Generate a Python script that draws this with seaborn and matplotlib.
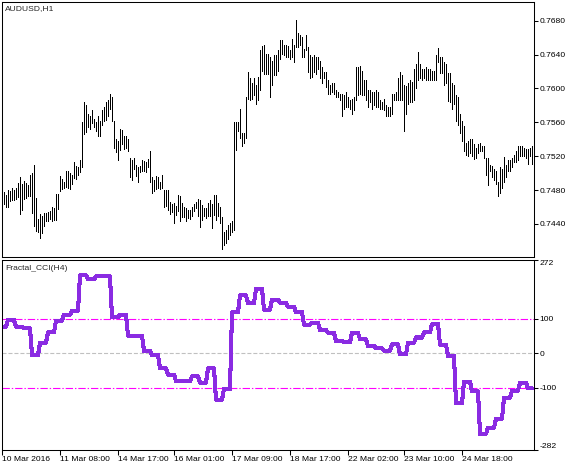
import matplotlib
matplotlib.use("Agg")
import matplotlib.pyplot as plt
import numpy as np
import pandas as pd
import seaborn as sns

# H1 bars of AUDUSD (high / low)
highs = [
    0.7478, 0.7474, 0.7480, 0.7479, 0.7483, 0.7480, 0.7482, 0.7488, 0.7496, 0.7487,
    0.7491, 0.7488, 0.7486, 0.7498, 0.7500, 0.7510, 0.7471, 0.7446, 0.7452, 0.7450,
    0.7453, 0.7453, 0.7454, 0.7455, 0.7460, 0.7459, 0.7475, 0.7475, 0.7497, 0.7493,
    0.7489, 0.7503, 0.7502, 0.7500, 0.7498, 0.7513, 0.7509, 0.7507, 0.7515, 0.7560,
    0.7584, 0.7580, 0.7570, 0.7568, 0.7575, 0.7564, 0.7560, 0.7568, 0.7562, 0.7574,
    0.7578, 0.7584, 0.7586, 0.7593, 0.7590, 0.7561, 0.7540, 0.7538, 0.7552, 0.7551,
    0.7544, 0.7544, 0.7540, 0.7518, 0.7515, 0.7518,
    0.7510, 0.7507, 0.7508, 0.7515, 0.7514, 0.7513, 0.7517, 0.7526, 0.7495, 0.7492,
    0.7497, 0.7495, 0.7489, 0.7498, 0.7480, 0.7480, 0.7480, 0.7466, 0.7464, 0.7465,
    0.7461, 0.7474, 0.7473, 0.7465, 0.7460, 0.7459, 0.7457, 0.7456, 0.7460, 0.7463,
    0.7466, 0.7470, 0.7468, 0.7462, 0.7459, 0.7459, 0.7465, 0.7468, 0.7463, 0.7474,
    0.7474, 0.7465, 0.7460, 0.7448, 0.7431, 0.7433, 0.7439, 0.7441, 0.7443,
    0.7560, 0.7560, 0.7560, 0.7576, 0.7548, 0.7548, 0.7590, 0.7619, 0.7612, 0.7606,
    0.7612, 0.7604, 0.7614, 0.7645, 0.7650, 0.7651, 0.7641, 0.7641, 0.7637, 0.7633,
    0.7639, 0.7639, 0.7645, 0.7657, 0.7657, 0.7651, 0.7651, 0.7650, 0.7646, 0.7659,
    0.7651, 0.7681, 0.7665, 0.7663, 0.7661, 0.7647, 0.7663, 0.7649, 0.7639, 0.7637,
    0.7639, 0.7637, 0.7637, 0.7633, 0.7625, 0.7619, 0.7619, 0.7610, 0.7604, 0.7606,
    0.7607, 0.7598, 0.7596, 0.7594, 0.7594, 0.7592, 0.7596, 0.7590, 0.7586, 0.7588,
    0.7590, 0.7625, 0.7625, 0.7626, 0.7621, 0.7610, 0.7610, 0.7598, 0.7598, 0.7596,
    0.7596, 0.7598, 0.7596, 0.7586, 0.7584, 0.7588, 0.7580, 0.7578, 0.7578, 0.7594,
    0.7594, 0.7596, 0.7612, 0.7619, 0.7616, 0.7604, 0.7603, 0.7606, 0.7610, 0.7608,
    0.7623, 0.7629, 0.7643, 0.7629, 0.7623, 0.7623, 0.7625, 0.7623, 0.7623, 0.7621,
    0.7621, 0.7639, 0.7648,
    0.7637, 0.7637, 0.7631, 0.7629, 0.7618, 0.7618, 0.7606, 0.7604, 0.7592, 0.7590,
    0.7570, 0.7562, 0.7556, 0.7536, 0.7538, 0.7540, 0.7540, 0.7534, 0.7530, 0.7534,
    0.7536, 0.7532, 0.7532, 0.7518, 0.7518, 0.7510, 0.7509, 0.7505, 0.7503, 0.7489,
    0.7507, 0.7505, 0.7519, 0.7510, 0.7516, 0.7516, 0.7518, 0.7522, 0.7526, 0.7532,
    0.7532, 0.7532, 0.7530, 0.7529, 0.7528, 0.7530, 0.7532,
]
lows = [
    0.7464, 0.7460, 0.7460, 0.7467, 0.7468, 0.7468, 0.7470, 0.7472, 0.7452, 0.7457,
    0.7470, 0.7471, 0.7473, 0.7473, 0.7453, 0.7438, 0.7432, 0.7431, 0.7423, 0.7429,
    0.7438, 0.7443, 0.7444, 0.7446, 0.7443, 0.7445, 0.7445, 0.7458, 0.7479, 0.7481,
    0.7483, 0.7484, 0.7483, 0.7481, 0.7487, 0.7494, 0.7493, 0.7498, 0.7501, 0.7507,
    0.7546, 0.7549, 0.7554, 0.7552, 0.7559, 0.7554, 0.7550, 0.7544, 0.7544, 0.7557,
    0.7561, 0.7563, 0.7567, 0.7576, 0.7561, 0.7530, 0.7525, 0.7516, 0.7527, 0.7534,
    0.7528, 0.7530, 0.7526, 0.7495, 0.7492, 0.7505,
    0.7497, 0.7489, 0.7501, 0.7503, 0.7502, 0.7501, 0.7507, 0.7489, 0.7477, 0.7479,
    0.7481, 0.7483, 0.7481, 0.7482, 0.7460, 0.7461, 0.7456, 0.7452, 0.7454, 0.7441,
    0.7451, 0.7455, 0.7443, 0.7448, 0.7448, 0.7443, 0.7447, 0.7446, 0.7449, 0.7455,
    0.7459, 0.7450, 0.7437, 0.7445, 0.7449, 0.7447, 0.7449, 0.7450, 0.7435, 0.7451,
    0.7445, 0.7450, 0.7441, 0.7410, 0.7415, 0.7418, 0.7422, 0.7427, 0.7431,
    0.7433, 0.7527, 0.7550, 0.7542, 0.7532, 0.7536, 0.7542, 0.7588, 0.7586, 0.7588,
    0.7592, 0.7582, 0.7586, 0.7598, 0.7621, 0.7617, 0.7617, 0.7617, 0.7590, 0.7604,
    0.7616, 0.7616, 0.7621, 0.7635, 0.7641, 0.7639, 0.7637, 0.7637, 0.7635, 0.7637,
    0.7631, 0.7649, 0.7649, 0.7651, 0.7637, 0.7637, 0.7645, 0.7619, 0.7612, 0.7614,
    0.7619, 0.7617, 0.7623, 0.7612, 0.7606, 0.7612, 0.7602, 0.7594, 0.7594, 0.7596,
    0.7594, 0.7590, 0.7590, 0.7586, 0.7568, 0.7576, 0.7578, 0.7578, 0.7576, 0.7570,
    0.7574, 0.7586, 0.7592, 0.7594, 0.7592, 0.7592, 0.7586, 0.7578, 0.7584, 0.7576,
    0.7580, 0.7578, 0.7578, 0.7576, 0.7576, 0.7574, 0.7568, 0.7568, 0.7568, 0.7570,
    0.7586, 0.7586, 0.7586, 0.7586, 0.7586, 0.7550, 0.7570, 0.7582, 0.7584, 0.7584,
    0.7586, 0.7600, 0.7610, 0.7612, 0.7610, 0.7612, 0.7610, 0.7610, 0.7610, 0.7610,
    0.7610, 0.7610, 0.7631,
    0.7618, 0.7618, 0.7604, 0.7606, 0.7585, 0.7584, 0.7576, 0.7582, 0.7561, 0.7557,
    0.7547, 0.7538, 0.7526, 0.7522, 0.7520, 0.7524, 0.7520, 0.7517, 0.7518, 0.7524,
    0.7526, 0.7526, 0.7518, 0.7498, 0.7486, 0.7503, 0.7495, 0.7492, 0.7487, 0.7473,
    0.7477, 0.7483, 0.7489, 0.7495, 0.7503, 0.7503, 0.7507, 0.7513, 0.7513, 0.7516,
    0.7520, 0.7520, 0.7520, 0.7518, 0.7511, 0.7520, 0.7511,
]

# Fractal_CCI computed on H4, one value per 4 H1 bars
cci_h4 = [
    78, 97, 77, 73, -5, 31, 61, 95, 113, 124,
    227, 216, 224, 224, 105, 112, 51, 51, 7, -5,
    -44, -62, -81, -81, -67, -86, -44, -135, -104, 120,
    169, 146, 188, 127, 156, 148, 136, 120, 83, 89,
    68, 60, 36, 32, 60, 41, 21, 15, 7, 26,
    -3, 31, 46, 61, 85, 25, -8, -145, -83, -111,
    -235, -217, -191, -130, -109, -86, -102,
]

price_ticks = [0.7440, 0.7480, 0.7520, 0.7560, 0.7600, 0.7640, 0.7680]
cci_ticks = [-282, -100, 0, 100, 272]
time_ticks = [0, 29, 58, 86, 115, 144, 173, 201, 230]
time_labels = ["10 Mar 2016", "11 Mar 08:00", "14 Mar 17:00", "16 Mar 01:00",
               "17 Mar 09:00", "18 Mar 17:00", "22 Mar 02:00", "23 Mar 10:00",
               "24 Mar 18:00"]

sns.set_style("white")
plt.rcParams['font.family'] = ['Liberation Sans', 'DejaVu Sans']
plt.rcParams['lines.scale_dashes'] = False

bars = pd.DataFrame({"bar": np.arange(1, len(highs) + 1), "high": highs, "low": lows})
bars["cci"] = np.repeat(cci_h4, 4)[2:2 + len(bars)]

W, H = 581, 470
fig = plt.figure(figsize=(W / 100, H / 100), dpi=100)
ax1 = fig.add_axes([2 / W, 1 - 257 / H, 532 / W, 255 / H])
ax2 = fig.add_axes([2 / W, 1 - 450 / H, 532 / W, 190 / H])

fs = 6.1

# price panel
ax1.vlines(bars["bar"], bars["low"], bars["high"], colors="black",
           linewidth=0.5, antialiased=False)
ax1.set_xlim(0, 266)
ax1.set_ylim(0.74010, 0.77021)
ax1.yaxis.tick_right()
ax1.set_yticks(price_ticks)
ax1.set_yticklabels([f"{v:.4f}" for v in price_ticks])
ax1.set_xticks([])
ax1.tick_params(axis="y", direction="out", length=2.7, width=0.75, pad=1,
                labelsize=fs, colors="black", right=True)
ax1.text(0.006, 0.988, "AUDUSD,H1", transform=ax1.transAxes, ha="left",
         va="top", fontsize=fs)

# indicator panel
for lvl in (100, -100):
    ax2.axhline(lvl, color="#FF00FF", linewidth=0.8, dashes=(5.3, 1.4, 1.0, 1.4))
ax2.axhline(0, color="#C0C0C0", linewidth=0.8, dashes=(2.9, 1.4))
sns.lineplot(data=bars, x="bar", y="cci", ax=ax2, color="#8A2BE2",
             linewidth=2.2, antialiased=False)
ax2.set_xlim(0, 266)
ax2.set_ylim(-282, 272)
ax2.set_xlabel("")
ax2.set_ylabel("")
ax2.yaxis.tick_right()
ax2.set_yticks(cci_ticks)
ax2.set_yticklabels([str(v) for v in cci_ticks])
ax2.tick_params(axis="y", direction="out", length=2.7, width=0.75, pad=1,
                labelsize=fs, colors="black", right=True, left=False)
labs = ax2.get_yticklabels()
labs[0].set_va("bottom")
labs[-1].set_va("top")
ax2.set_xticks(time_ticks)
ax2.set_xticklabels(time_labels, ha="left")
ax2.tick_params(axis="x", direction="out", length=3.6, width=0.75, pad=0.5,
                labelsize=fs, colors="black", bottom=True)
ax2.text(0.006, 0.974, "Fractal_CCI(H4)", transform=ax2.transAxes, ha="left",
         va="top", fontsize=fs)

for ax in (ax1, ax2):
    for s in ax.spines.values():
        s.set_color("black")
        s.set_linewidth(0.75)
        s.set_visible(True)

fig.savefig("out.png", dpi=100)
